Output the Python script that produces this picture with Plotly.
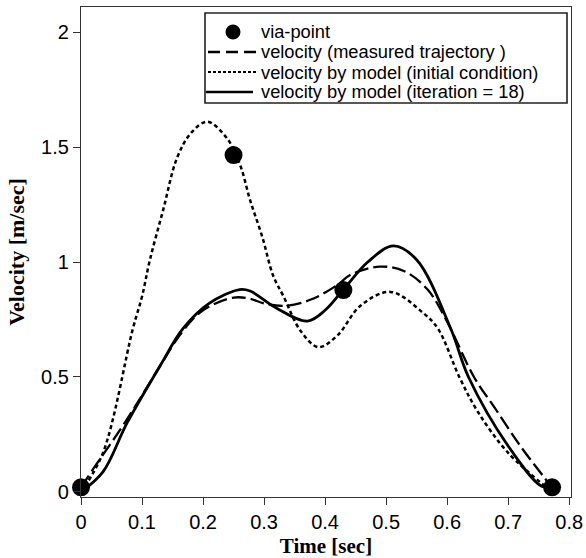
import plotly.graph_objects as go

# via-points
via_t = [0.0, 0.25, 0.43, 0.772]
via_v = [0.02, 1.465, 0.878, 0.02]

# measured trajectory velocity (dashed)
meas_t = [0.0, 0.02, 0.064, 0.10, 0.13, 0.167, 0.20, 0.25, 0.277, 0.30, 0.338, 0.38, 0.42, 0.442, 0.49, 0.53, 0.568, 0.60, 0.644, 0.677, 0.72, 0.76, 0.772]
meas_v = [0.02, 0.10, 0.27, 0.42, 0.55, 0.70, 0.79, 0.845, 0.84, 0.82, 0.81, 0.84, 0.90, 0.945, 0.98, 0.96, 0.88, 0.74, 0.50, 0.37, 0.20, 0.06, 0.02]

# model velocity, initial condition (dotted)
init_t = [0.0, 0.036, 0.085, 0.10, 0.113, 0.135, 0.157, 0.18, 0.207, 0.24, 0.261, 0.277, 0.297, 0.315, 0.332, 0.36, 0.389, 0.42, 0.458, 0.507, 0.56, 0.585, 0.62, 0.65, 0.70, 0.772]
init_v = [0.0, 0.17, 0.71, 0.85, 1.01, 1.23, 1.45, 1.56, 1.61, 1.535, 1.42, 1.27, 1.11, 0.94, 0.85, 0.70, 0.63, 0.68, 0.81, 0.87, 0.78, 0.71, 0.50, 0.35, 0.17, 0.0]

# model velocity, iteration = 18 (solid)
iter_t = [0.0, 0.036, 0.0755, 0.13, 0.167, 0.21, 0.26, 0.277, 0.32, 0.371, 0.40, 0.43, 0.47, 0.512, 0.55, 0.606, 0.635, 0.70, 0.754, 0.772]
iter_v = [0.0, 0.087, 0.30, 0.55, 0.71, 0.82, 0.88, 0.874, 0.80, 0.743, 0.79, 0.88, 1.0, 1.07, 1.01, 0.71, 0.50, 0.20, 0.026, 0.02]

x_ticks = [0, 0.1, 0.2, 0.3, 0.4, 0.5, 0.6, 0.7, 0.8]
x_labels = ["0", "0.1", "0.2", "0.3", "0.4", "0.5", "0.6", "0.7", "0.8"]
y_ticks = [0, 0.5, 1, 1.5, 2]
y_labels = ["0", "0.5", "1", "1.5", "2"]

legend_names = ["via-point", "velocity (measured trajectory )",
                "velocity by model (initial condition)", "velocity by model (iteration = 18)"]

W, H = 586, 558
L, R, T, B = 81, 15, 7, 61
PW, PH = W - L - R, H - T - B


def px(x):
    return (x - L) / PW


def py(y):
    return (H - B - y) / PH


MEAS_DASH = "14px,5px"
INIT_DASH = "4px,3px"

fig = go.Figure()
fig.add_trace(go.Scatter(x=meas_t, y=meas_v, mode="lines", name=legend_names[1],
                         line=dict(color="black", width=2.3, dash=MEAS_DASH, shape="spline", smoothing=1.0)))
fig.add_trace(go.Scatter(x=init_t, y=init_v, mode="lines", name=legend_names[2],
                         line=dict(color="black", width=2.5, dash=INIT_DASH, shape="spline", smoothing=1.0)))
fig.add_trace(go.Scatter(x=iter_t, y=iter_v, mode="lines", name=legend_names[3],
                         line=dict(color="black", width=2.8, shape="spline", smoothing=1.0)))
fig.add_trace(go.Scatter(x=via_t, y=via_v, mode="markers", name=legend_names[0],
                         marker=dict(color="black", size=18, symbol="circle"), cliponaxis=False))

# custom legend box
shapes = [dict(type="rect", xref="paper", yref="paper",
               x0=px(205), x1=px(567), y0=py(103), y1=py(13),
               line=dict(color="#222", width=1.6), fillcolor="white", layer="above")]
rows = [32, 52, 72, 92]
sx0, sx1 = px(208), px(258)
shapes.append(dict(type="circle", xref="paper", yref="paper", xsizemode="pixel", ysizemode="pixel",
                   xanchor=px(233), yanchor=py(rows[0]), x0=-7.5, x1=7.5, y0=-7.5, y1=7.5,
                   fillcolor="black", line=dict(color="black", width=0), layer="above"))
shapes.append(dict(type="line", xref="paper", yref="paper", x0=sx0, x1=sx1, y0=py(rows[1]), y1=py(rows[1]),
                   line=dict(color="black", width=2.3, dash="12px,6px"), layer="above"))
shapes.append(dict(type="line", xref="paper", yref="paper", x0=sx0, x1=sx1, y0=py(rows[2]), y1=py(rows[2]),
                   line=dict(color="black", width=2, dash="3px,2px"), layer="above"))
shapes.append(dict(type="line", xref="paper", yref="paper", x0=sx0 - 0.004, x1=px(253), y0=py(rows[3]), y1=py(rows[3]),
                   line=dict(color="black", width=2.5), layer="above"))

annotations = []
for name, r in zip(legend_names, rows):
    annotations.append(dict(xref="paper", yref="paper", x=px(260), y=py(r), text=name, showarrow=False,
                            xanchor="left", yanchor="middle", borderpad=0,
                            font=dict(family="Liberation Sans, Arial", size=18.3, color="black")))

axis_common = dict(showgrid=False, zeroline=False, showline=True, linecolor="#333", linewidth=1.3,
                   mirror=True, ticks="outside", ticklen=7, tickcolor="#333", tickwidth=1.2,
                   automargin=False,
                   tickfont=dict(family="Liberation Sans, Arial", size=20, color="black"))

fig.update_layout(
    width=W, height=H,
    margin=dict(l=L, r=R, t=T, b=B),
    paper_bgcolor="white", plot_bgcolor="white",
    showlegend=False,
    shapes=shapes, annotations=annotations,
    xaxis=dict(range=[0, 0.803], tickvals=x_ticks, ticktext=x_labels,
               title=dict(text="<b>Time [sec]</b>", font=dict(family="Liberation Serif, Times New Roman", size=21, color="black"), standoff=6),
               **axis_common),
    yaxis=dict(range=[-0.022, 2.109], tickvals=y_ticks, ticktext=y_labels,
               title=dict(text="<b>Velocity [m/sec]</b>", font=dict(family="Liberation Serif, Times New Roman", size=22, color="black"), standoff=10),
               **axis_common),
)

fig.write_html("out.html", config={"displayModeBar": False},
               post_script="document.body.style.margin='0px';document.body.style.overflow='hidden';")
